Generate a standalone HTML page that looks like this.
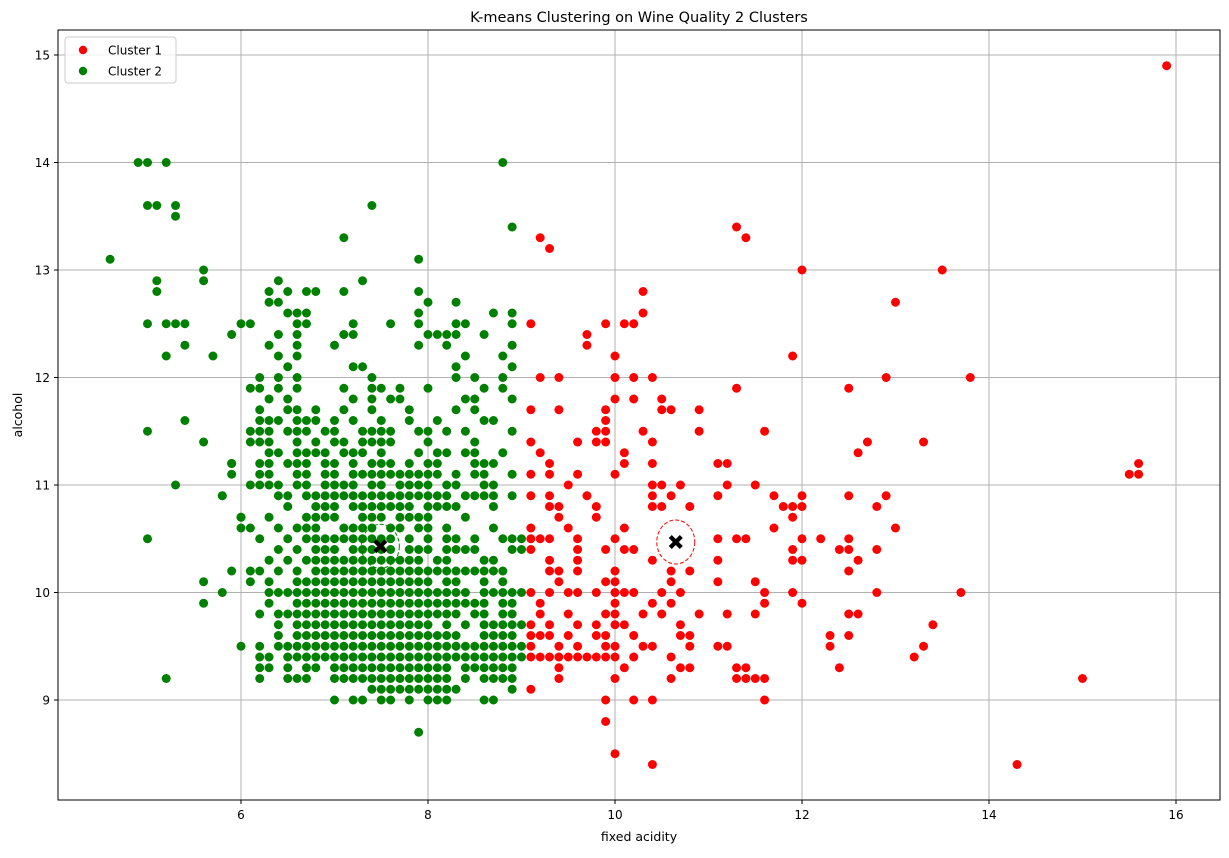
<!DOCTYPE html>
<html><head><meta charset="utf-8"><style>
body{margin:0;background:#fff;font-family:"Liberation Sans","DejaVu Sans",sans-serif}
svg text{font-family:"DejaVu Sans","Liberation Sans",sans-serif;fill:#000}
</style></head><body>
<svg id="chart" width="1229" height="853" xmlns="http://www.w3.org/2000/svg">
<rect width="1229" height="853" fill="#fff"/>
<g id="grid"></g><g id="pts"></g><g id="axes"></g>
</svg>
<script>
// data
const xTicks=[6,8,10,12,14,16];
const yTicks=[9,10,11,12,13,14,15];
// green cluster: rows of alcohol (tenths) -> fixed acidity (tenths)
const greenRows={
90:[70,72,73,75,76,78,80,81,82,86,87],
91:[74,75,76,77,78,79,80,81,82,83,89],
92:[62,65,66,67,70,71,72,73,74,75,76,77,78,79,80,81,82,84,86,87,88,89],
93:[62,63,65,67,68,70,71,72,73,74,75,76,77,78,79,80,81,82,84,85,86,87,88,89],
94:[62,63,65,66,67,68,69,70,71,72,73,74,75,76,77,78,79,80,81,82,83,84,85,86,87,88,89,90],
95:[60,62,64,65,66,67,68,69,70,71,72,73,74,75,76,77,78,79,80,81,82,83,84,85,86,87,88,89,90],
96:[64,66,67,68,69,70,71,72,73,74,75,76,77,78,79,80,81,82,83,86,87,88,89],
97:[64,66,67,68,69,70,71,72,73,74,75,76,77,78,79,80,82,84,86,87,88,89,90],
98:[62,64,65,66,67,68,69,70,71,72,73,74,75,76,77,78,79,80,81,82,83,85,86,88,89],
99:[63,66,67,68,69,70,71,72,73,74,75,76,77,78,79,80,81,82,83,84,85,86,88,89],
100:[63,64,65,66,67,68,69,70,71,72,73,74,75,76,77,78,79,80,81,82,83,84,86,87,88,89,90],
101:[61,63,66,67,68,69,70,71,72,73,74,75,76,77,78,79,80,82,83,86,88],
102:[61,62,64,66,68,69,70,71,72,73,74,75,76,77,78,79,80,81,82,83,84,85,86,87,88],
103:[63,65,67,68,69,70,71,72,73,74,75,76,77,78,79,81,82,86,87],
104:[64,66,68,69,70,72,73,74,75,76,78,79,80,82,83,84,85,89,90],
105:[62,65,67,68,69,70,71,72,73,74,75,76,78,80,82,83,85,88,89,90],
106:[61,64,66,67,68,71,72,73,74,76,77,79,80,82,87],
107:[60,63,67,68,69,70,73,74,75,77,78,79,80,84],
108:[65,68,69,70,72,73,74,75,76,77,78,80,81,82,83,87],
109:[58,64,65,67,68,69,70,71,72,73,74,75,76,77,78,79,80,81,82,84,85,86,87,89],
110:[61,62,63,64,66,67,69,70,71,72,74,75,77,78,79,80,82,83,86,87],
111:[62,63,66,67,69,70,72,73,74,75,76,77,78,79,80,81,83,85,86,89],
112:[59,62,63,65,66,67,69,70,72,74,75,76,78,80,81,85,86,87],
113:[63,64,66,67,68,69,71,72,73,75,79,81,82,84,85,88],
114:[56,61,62,63,66,68,70,71,73,74,75,76,80,85],
115:[50,61,62,63,65,66,67,69,70,73,74,75,76,79,80,82,84,89],
116:[54,62,63,64,66,67,68,70,72,75,78,81,86,87],
117:[62,65,66,68,71,74,78,83,85],
118:[63,65,72,74,76,77,84,85,89],
119:[61,62,64,66,71,74,75,77,80,86,88],
120:[62,64,66,74,83,85,88],
121:[65,72,73,83,89],
122:[52,57,64,66,84,88],
123:[54,63,66,70,79,82,89],
124:[59,64,66,71,72,80,81,82,83,86],
125:[50,52,53,54,60,61,66,67,72,76,79,83,84,89],
126:[65,66,67,79,87,89],
127:[63,64,80,83],
128:[51,63,65,67,68,71,79],
129:[51,56,64,73],
130:[56],
131:[46,79],
133:[71],
134:[89],
136:[50,51,53,74],
140:[49,50,52,88]
};
const greenExtra=[[53,135],[53,110],[59,112],[59,111],[58,109],[60,107],[60,106],[50,105],[59,102],[56,101],[56,99],[58,100],[52,92],[79,87]];
const redX=[15.9,11.3,11.4,9.2,9.3,12.0,13.5,10.3,13.0,10.3,9.1,9.9,10.1,10.2,9.7,9.7,10.0,11.9,9.2,9.4,10.0,10.2,10.4,12.9,13.8,11.3,12.5,10.2,10.0,10.5,9.1,9.4,9.9,10.5,10.6,10.9,9.9,9.8,9.9,10.3,10.9,11.6,9.1,9.6,9.8,9.9,10.4,12.7,13.3,9.2,10.1,12.6,9.3,10.1,10.4,11.1,11.2,15.6,9.1,9.3,9.6,15.5,15.6,10.0,9.5,10.4,10.5,10.7,11.2,11.5,9.1,9.3,9.7,10.4,10.6,11.1,11.7,12.0,12.5,12.9,9.3,9.4,9.8,10.4,10.5,10.8,11.8,11.9,12.0,12.8,9.4,9.8,11.9,9.1,9.5,10.1,11.7,13.0,9.1,9.2,9.3,9.6,10.0,11.1,11.3,11.4,12.0,12.2,12.5,9.1,9.6,9.9,10.1,10.2,11.9,12.4,12.5,12.8,9.3,9.6,10.4,11.1,11.9,12.0,12.6,9.3,9.4,9.6,10.0,10.6,10.8,12.5,9.4,9.9,10.0,10.6,11.1,11.5,9.1,9.3,9.5,9.6,9.8,10.0,10.1,10.2,10.5,10.7,11.6,11.9,12.8,13.7,9.2,10.0,10.4,10.6,11.6,12.0,9.2,9.5,9.9,10.0,10.3,10.5,10.9,11.2,11.5,12.5,12.6,9.1,9.3,9.6,9.8,10.0,10.1,10.7,13.4,9.1,9.2,9.3,9.5,9.8,9.9,10.2,10.7,10.8,12.3,12.5,9.1,9.4,9.6,9.9,10.0,10.3,10.4,10.8,11.1,11.2,12.3,13.3,9.1,9.2,9.3,9.4,9.5,9.6,9.7,9.8,9.9,10.0,10.2,10.6,13.2,9.4,10.1,10.7,10.8,11.3,11.4,12.4,9.4,10.0,10.6,11.3,11.4,11.5,11.6,9.1,9.9,10.2,10.4,11.6,9.9,10.0,10.4,14.3,15.0];
const redY=[14.9,13.4,13.3,13.3,13.2,13.0,13.0,12.8,12.7,12.6,12.5,12.5,12.5,12.5,12.4,12.3,12.2,12.2,12.0,12.0,12.0,12.0,12.0,12.0,12.0,11.9,11.9,11.8,11.8,11.8,11.7,11.7,11.7,11.7,11.7,11.7,11.6,11.5,11.5,11.5,11.5,11.5,11.4,11.4,11.4,11.4,11.4,11.4,11.4,11.3,11.3,11.3,11.2,11.2,11.2,11.2,11.2,11.2,11.1,11.1,11.1,11.1,11.1,11.1,11.0,11.0,11.0,11.0,11.0,11.0,10.9,10.9,10.9,10.9,10.9,10.9,10.9,10.9,10.9,10.9,10.8,10.8,10.8,10.8,10.8,10.8,10.8,10.8,10.8,10.8,10.7,10.7,10.7,10.6,10.6,10.6,10.6,10.6,10.5,10.5,10.5,10.5,10.5,10.5,10.5,10.5,10.5,10.5,10.5,10.4,10.4,10.4,10.4,10.4,10.4,10.4,10.4,10.4,10.3,10.3,10.3,10.3,10.3,10.3,10.3,10.2,10.2,10.2,10.2,10.2,10.2,10.2,10.1,10.1,10.1,10.1,10.1,10.1,10.0,10.0,10.0,10.0,10.0,10.0,10.0,10.0,10.0,10.0,10.0,10.0,10.0,10.0,9.9,9.9,9.9,9.9,9.9,9.9,9.8,9.8,9.8,9.8,9.8,9.8,9.8,9.8,9.8,9.8,9.8,9.7,9.7,9.7,9.7,9.7,9.7,9.7,9.7,9.6,9.6,9.6,9.6,9.6,9.6,9.6,9.6,9.6,9.6,9.6,9.5,9.5,9.5,9.5,9.5,9.5,9.5,9.5,9.5,9.5,9.5,9.5,9.4,9.4,9.4,9.4,9.4,9.4,9.4,9.4,9.4,9.4,9.4,9.4,9.4,9.3,9.3,9.3,9.3,9.3,9.3,9.3,9.2,9.2,9.2,9.2,9.2,9.2,9.2,9.1,9.0,9.0,9.0,9.0,8.8,8.5,8.4,8.4,9.2];
const centroidX=[10.65,7.49];
const centroidY=[10.47,10.43];

const NS='http://www.w3.org/2000/svg';
const L=58,R=1220,T=30,B=800;
const xs=v=>241+(v-6)*93.5;
const ys=v=>700-(v-9)*107.5;
function mk(tag,attrs,parent){const e=document.createElementNS(NS,tag);for(const k in attrs)e.setAttribute(k,attrs[k]);parent.appendChild(e);return e;}
const grid=document.getElementById('grid'),pts=document.getElementById('pts'),axes=document.getElementById('axes');
xTicks.forEach(t=>{
 const g=mk('line',{x1:xs(t),x2:xs(t),y1:T,y2:B,stroke:'#b0b0b0','stroke-width':1},grid);
 
 
 mk('line',{x1:xs(t),x2:xs(t),y1:B,y2:B+4,stroke:'#000'},axes);
 const tx=mk('text',{x:xs(t),y:B+19,'text-anchor':'middle','font-size':12},axes);tx.textContent=t;
 
 
});
yTicks.forEach(t=>{
 const g=mk('line',{x1:L,x2:R,y1:ys(t),y2:ys(t),stroke:'#b0b0b0','stroke-width':1},grid);
 
 
 mk('line',{x1:L-4,x2:L,y1:ys(t),y2:ys(t),stroke:'#000'},axes);
 const tx=mk('text',{x:L-8,y:ys(t)+4.5,'text-anchor':'end','font-size':12},axes);tx.textContent=t;
 
 
});
for(let i=0;i<redX.length;i++){
 const c=mk('circle',{cx:xs(redX[i]),cy:ys(redY[i]),r:4.5,fill:'#ff0000'},pts);
 
 
}
function green(fx,al){
 const c=mk('circle',{cx:xs(fx),cy:ys(al),r:4.5,fill:'#008000'},pts);
 
 
}
Object.keys(greenRows).forEach(k=>greenRows[k].forEach(x=>green(x/10,k/10)));
greenExtra.forEach(p=>green(p[0]/10,p[1]/10));
const cc=['#ff0000','#008000'];
for(let i=0;i<centroidX.length;i++){
 const cx=xs(centroidX[i]),cy=ys(centroidY[i]);
 const e=mk('ellipse',{cx:cx,cy:cy,rx:19,ry:22,fill:'none',stroke:cc[i],'stroke-dasharray':'4,2','stroke-width':1},pts);
 
 
 const m=mk('path',{d:`M${cx-7},${cy-4} L${cx-4},${cy-7} L${cx},${cy-3} L${cx+4},${cy-7} L${cx+7},${cy-4} L${cx+3},${cy} L${cx+7},${cy+4} L${cx+4},${cy+7} L${cx},${cy+3} L${cx-4},${cy+7} L${cx-7},${cy+4} L${cx-3},${cy} Z`,fill:'#000'},pts);
 
 
}
const fr=mk('rect',{x:L,y:T,width:R-L,height:B-T,fill:'none',stroke:'#000','stroke-width':1},axes);


</script>
<svg style="position:absolute;left:0;top:0" width="1229" height="853">
<text x="639" y="22" text-anchor="middle" font-size="14.5">K-means Clustering on Wine Quality 2 Clusters</text>
<text x="639" y="841" text-anchor="middle" font-size="12.5">fixed acidity</text>
<text x="22" y="415" text-anchor="middle" font-size="12.5" transform="rotate(-90 22 415)">alcohol</text>
<g>
<rect x="65" y="37" width="111" height="46" rx="3" fill="#fff" fill-opacity="0.8" stroke="#ccc"/>
<circle cx="83" cy="50" r="4.2" fill="#ff0000"/>
<text x="108" y="54.5" font-size="12">Cluster 1</text>
<circle cx="83" cy="71" r="4.2" fill="#008000"/>
<text x="108" y="75.5" font-size="12">Cluster 2</text>
</g>
</svg>
</body></html>
